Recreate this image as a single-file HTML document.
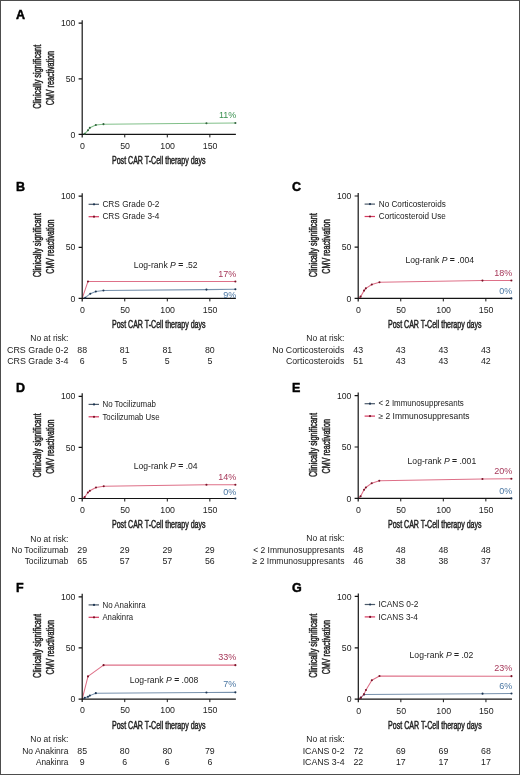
<!DOCTYPE html>
<html><head><meta charset="utf-8"><title>CMV reactivation</title>
<style>
html,body{margin:0;padding:0;background:#fff;}
svg{display:block;font-family:"Liberation Sans", sans-serif;filter:blur(0.35px);}
#wrap{position:relative;width:520px;height:775px;overflow:hidden;}
#bd{position:absolute;left:0;top:0;width:520px;height:775px;box-sizing:border-box;border:1px solid #4d4d4d;}
</style></head><body><div id="wrap">
<svg width="520" height="775" viewBox="0 0 520 775" fill="#222">
<rect x="0" y="0" width="520" height="775" fill="#fff"/>
<text x="15.90" y="18.50" font-size="12.5" fill="#000" font-weight="bold" stroke="#000" stroke-width="0.45">A</text>
<path d="M82.20 134.40 L84.75 133.73 L87.99 130.29 L89.86 127.84 L95.82 125.06 L103.47 124.17 L206.45 123.28 L235.38 123.06" stroke="#82c08a" stroke-width="1.05" fill="none" stroke-linejoin="round"/>
<path d="M82.20 20.20V137.40M78.60 23.20H82.20M78.60 78.80H82.20M78.60 134.40H235.88" stroke="#141414" stroke-width="1.2" fill="none"/>
<path d="M124.75 134.40v3M167.30 134.40v3M209.85 134.40v3" stroke="#141414" stroke-width="1" fill="none"/>
<circle cx="84.75" cy="133.73" r="1.05" fill="#34643f"/>
<circle cx="87.99" cy="130.29" r="1.05" fill="#34643f"/>
<circle cx="89.86" cy="127.84" r="1.05" fill="#34643f"/>
<circle cx="95.82" cy="125.06" r="1.05" fill="#34643f"/>
<circle cx="103.47" cy="124.17" r="1.05" fill="#34643f"/>
<circle cx="206.45" cy="123.28" r="1.05" fill="#34643f"/>
<circle cx="235.38" cy="123.06" r="1.05" fill="#34643f"/>
<text x="75.40" y="26.30" font-size="8.7" text-anchor="end">100</text>
<text x="75.40" y="81.90" font-size="8.7" text-anchor="end">50</text>
<text x="75.40" y="137.50" font-size="8.7" text-anchor="end">0</text>
<text x="82.50" y="148.70" font-size="8.8" text-anchor="middle">0</text>
<text x="125.05" y="148.70" font-size="8.8" text-anchor="middle">50</text>
<text x="167.60" y="148.70" font-size="8.8" text-anchor="middle">100</text>
<text x="210.15" y="148.70" font-size="8.8" text-anchor="middle">150</text>
<text x="158.79" y="163.80" font-size="10" text-anchor="middle" textLength="93.60" lengthAdjust="spacingAndGlyphs" stroke="#222" stroke-width="0.45">Post CAR T-Cell therapy days</text>
<g transform="translate(40.50,76.80) rotate(-90)">
<text x="0.00" y="0.00" font-size="10" text-anchor="middle" textLength="64.00" lengthAdjust="spacingAndGlyphs" stroke="#222" stroke-width="0.45">Clinically significant</text>
</g>
<g transform="translate(54.20,78.10) rotate(-90)">
<text x="0.00" y="0.00" font-size="10" text-anchor="middle" textLength="54.30" lengthAdjust="spacingAndGlyphs" stroke="#222" stroke-width="0.45">CMV reactivation</text>
</g>
<text x="236.28" y="117.80" font-size="9.0" text-anchor="end" fill="#3a9150">11%</text>
<text x="15.90" y="191.20" font-size="12.5" fill="#000" font-weight="bold" stroke="#000" stroke-width="0.45">B</text>
<path d="M82.20 298.40 L85.26 297.68 L90.28 293.70 L95.82 291.55 L103.47 290.43 L206.45 289.61 L235.38 289.20" stroke="#7892ad" stroke-width="1.05" fill="none" stroke-linejoin="round"/>
<path d="M82.20 298.40 L87.99 281.43 L235.38 281.43" stroke="#de7088" stroke-width="1.05" fill="none" stroke-linejoin="round"/>
<path d="M82.20 193.20V301.40M78.60 196.20H82.20M78.60 247.30H82.20M78.60 298.40H235.88" stroke="#141414" stroke-width="1.2" fill="none"/>
<path d="M124.75 298.40v3M167.30 298.40v3M209.85 298.40v3" stroke="#141414" stroke-width="1" fill="none"/>
<circle cx="85.26" cy="297.68" r="1.05" fill="#1c3552"/>
<circle cx="90.28" cy="293.70" r="1.05" fill="#1c3552"/>
<circle cx="95.82" cy="291.55" r="1.05" fill="#1c3552"/>
<circle cx="103.47" cy="290.43" r="1.05" fill="#1c3552"/>
<circle cx="206.45" cy="289.61" r="1.05" fill="#1c3552"/>
<circle cx="235.38" cy="289.20" r="1.05" fill="#1c3552"/>
<circle cx="87.99" cy="281.43" r="1.05" fill="#7a1428"/>
<circle cx="235.38" cy="281.43" r="1.05" fill="#7a1428"/>
<text x="75.40" y="199.30" font-size="8.7" text-anchor="end">100</text>
<text x="75.40" y="250.40" font-size="8.7" text-anchor="end">50</text>
<text x="75.40" y="301.50" font-size="8.7" text-anchor="end">0</text>
<text x="82.50" y="312.70" font-size="8.8" text-anchor="middle">0</text>
<text x="125.05" y="312.70" font-size="8.8" text-anchor="middle">50</text>
<text x="167.60" y="312.70" font-size="8.8" text-anchor="middle">100</text>
<text x="210.15" y="312.70" font-size="8.8" text-anchor="middle">150</text>
<text x="158.79" y="327.80" font-size="10" text-anchor="middle" textLength="93.60" lengthAdjust="spacingAndGlyphs" stroke="#222" stroke-width="0.45">Post CAR T-Cell therapy days</text>
<g transform="translate(40.50,245.30) rotate(-90)">
<text x="0.00" y="0.00" font-size="10" text-anchor="middle" textLength="64.00" lengthAdjust="spacingAndGlyphs" stroke="#222" stroke-width="0.45">Clinically significant</text>
</g>
<g transform="translate(54.20,246.60) rotate(-90)">
<text x="0.00" y="0.00" font-size="10" text-anchor="middle" textLength="54.30" lengthAdjust="spacingAndGlyphs" stroke="#222" stroke-width="0.45">CMV reactivation</text>
</g>
<text x="236.28" y="276.90" font-size="9.0" text-anchor="end" fill="#a6385a">17%</text>
<text x="236.28" y="297.60" font-size="9.0" text-anchor="end" fill="#4a76a2">9%</text>
<path d="M88.60 204.30H99.00" stroke="#4d5b6b" stroke-width="1.2"/>
<circle cx="94.00" cy="204.30" r="1.1" fill="#1c3552"/>
<text x="102.40" y="207.05" font-size="8.35" textLength="56.95" lengthAdjust="spacingAndGlyphs">CRS Grade 0-2</text>
<path d="M88.60 216.70H99.00" stroke="#d63a60" stroke-width="1.2"/>
<circle cx="94.00" cy="216.70" r="1.1" fill="#7a1428"/>
<text x="102.40" y="219.45" font-size="8.35" textLength="56.95" lengthAdjust="spacingAndGlyphs">CRS Grade 3-4</text>
<text x="197.60" y="268.00" font-size="8.6" text-anchor="end">Log-rank <tspan font-style="italic">P</tspan> <tspan font-weight="bold">=</tspan> .52</text>
<text x="30.25" y="341.40" font-size="8.6" textLength="38.20" lengthAdjust="spacingAndGlyphs">No at risk:</text>
<text x="6.95" y="352.80" font-size="9.0" textLength="61.60" lengthAdjust="spacingAndGlyphs">CRS Grade 0-2</text>
<text x="82.20" y="352.80" font-size="8.8" text-anchor="middle">88</text>
<text x="124.75" y="352.80" font-size="8.8" text-anchor="middle">81</text>
<text x="167.30" y="352.80" font-size="8.8" text-anchor="middle">81</text>
<text x="209.85" y="352.80" font-size="8.8" text-anchor="middle">80</text>
<text x="7.15" y="364.10" font-size="9.0" textLength="61.20" lengthAdjust="spacingAndGlyphs">CRS Grade 3-4</text>
<text x="82.20" y="364.10" font-size="8.8" text-anchor="middle">6</text>
<text x="124.75" y="364.10" font-size="8.8" text-anchor="middle">5</text>
<text x="167.30" y="364.10" font-size="8.8" text-anchor="middle">5</text>
<text x="209.85" y="364.10" font-size="8.8" text-anchor="middle">5</text>
<text x="291.90" y="191.20" font-size="12.5" fill="#000" font-weight="bold" stroke="#000" stroke-width="0.45">C</text>
<path d="M358.20 298.40 L511.38 298.40" stroke="#7892ad" stroke-width="1.05" fill="none" stroke-linejoin="round"/>
<path d="M358.20 298.40 L360.58 296.66 L364.07 290.62 L365.86 288.36 L371.82 284.47 L379.47 282.32 L482.45 280.58 L511.38 280.48" stroke="#de7088" stroke-width="1.05" fill="none" stroke-linejoin="round"/>
<path d="M358.20 193.00V301.40M354.60 196.00H358.20M354.60 247.20H358.20M354.60 298.40H511.88" stroke="#141414" stroke-width="1.2" fill="none"/>
<path d="M400.75 298.40v3M443.30 298.40v3M485.85 298.40v3" stroke="#141414" stroke-width="1" fill="none"/>
<circle cx="511.38" cy="298.40" r="1.05" fill="#1c3552"/>
<circle cx="360.58" cy="296.66" r="1.05" fill="#7a1428"/>
<circle cx="364.07" cy="290.62" r="1.05" fill="#7a1428"/>
<circle cx="365.86" cy="288.36" r="1.05" fill="#7a1428"/>
<circle cx="371.82" cy="284.47" r="1.05" fill="#7a1428"/>
<circle cx="379.47" cy="282.32" r="1.05" fill="#7a1428"/>
<circle cx="482.45" cy="280.58" r="1.05" fill="#7a1428"/>
<circle cx="511.38" cy="280.48" r="1.05" fill="#7a1428"/>
<text x="351.40" y="199.10" font-size="8.7" text-anchor="end">100</text>
<text x="351.40" y="250.30" font-size="8.7" text-anchor="end">50</text>
<text x="351.40" y="301.50" font-size="8.7" text-anchor="end">0</text>
<text x="358.50" y="312.70" font-size="8.8" text-anchor="middle">0</text>
<text x="401.05" y="312.70" font-size="8.8" text-anchor="middle">50</text>
<text x="443.60" y="312.70" font-size="8.8" text-anchor="middle">100</text>
<text x="486.15" y="312.70" font-size="8.8" text-anchor="middle">150</text>
<text x="434.79" y="327.80" font-size="10" text-anchor="middle" textLength="93.60" lengthAdjust="spacingAndGlyphs" stroke="#222" stroke-width="0.45">Post CAR T-Cell therapy days</text>
<g transform="translate(316.50,245.20) rotate(-90)">
<text x="0.00" y="0.00" font-size="10" text-anchor="middle" textLength="64.00" lengthAdjust="spacingAndGlyphs" stroke="#222" stroke-width="0.45">Clinically significant</text>
</g>
<g transform="translate(330.20,246.50) rotate(-90)">
<text x="0.00" y="0.00" font-size="10" text-anchor="middle" textLength="54.30" lengthAdjust="spacingAndGlyphs" stroke="#222" stroke-width="0.45">CMV reactivation</text>
</g>
<text x="512.28" y="275.80" font-size="9.0" text-anchor="end" fill="#a6385a">18%</text>
<text x="512.28" y="293.60" font-size="9.0" text-anchor="end" fill="#4a76a2">0%</text>
<path d="M364.60 204.10H375.00" stroke="#4d5b6b" stroke-width="1.2"/>
<circle cx="370.00" cy="204.10" r="1.1" fill="#1c3552"/>
<text x="378.85" y="206.85" font-size="8.35" textLength="66.90" lengthAdjust="spacingAndGlyphs">No Corticosteroids</text>
<path d="M364.60 216.50H375.00" stroke="#d63a60" stroke-width="1.2"/>
<circle cx="370.00" cy="216.50" r="1.1" fill="#7a1428"/>
<text x="378.85" y="219.25" font-size="8.35" textLength="66.90" lengthAdjust="spacingAndGlyphs">Corticosteroid Use</text>
<text x="474.00" y="262.80" font-size="8.6" text-anchor="end">Log-rank <tspan font-style="italic">P</tspan> <tspan font-weight="bold">=</tspan> .004</text>
<text x="306.25" y="341.40" font-size="8.6" textLength="38.20" lengthAdjust="spacingAndGlyphs">No at risk:</text>
<text x="272.15" y="352.80" font-size="9.0" textLength="72.20" lengthAdjust="spacingAndGlyphs">No Corticosteroids</text>
<text x="358.20" y="352.80" font-size="8.8" text-anchor="middle">43</text>
<text x="400.75" y="352.80" font-size="8.8" text-anchor="middle">43</text>
<text x="443.30" y="352.80" font-size="8.8" text-anchor="middle">43</text>
<text x="485.85" y="352.80" font-size="8.8" text-anchor="middle">43</text>
<text x="285.90" y="364.10" font-size="9.0" textLength="58.45" lengthAdjust="spacingAndGlyphs">Corticosteroids</text>
<text x="358.20" y="364.10" font-size="8.8" text-anchor="middle">51</text>
<text x="400.75" y="364.10" font-size="8.8" text-anchor="middle">43</text>
<text x="443.30" y="364.10" font-size="8.8" text-anchor="middle">43</text>
<text x="485.85" y="364.10" font-size="8.8" text-anchor="middle">42</text>
<text x="15.90" y="391.60" font-size="12.5" fill="#000" font-weight="bold" stroke="#000" stroke-width="0.45">D</text>
<path d="M82.20 498.50 L235.38 498.50" stroke="#7892ad" stroke-width="1.05" fill="none" stroke-linejoin="round"/>
<path d="M82.20 498.50 L84.75 497.07 L87.90 492.47 L89.86 490.83 L95.99 487.46 L103.73 486.24 L206.45 484.81 L235.38 484.70" stroke="#de7088" stroke-width="1.05" fill="none" stroke-linejoin="round"/>
<path d="M82.20 393.30V501.50M78.60 396.30H82.20M78.60 447.40H82.20M78.60 498.50H235.88" stroke="#141414" stroke-width="1.2" fill="none"/>
<path d="M124.75 498.50v3M167.30 498.50v3M209.85 498.50v3" stroke="#141414" stroke-width="1" fill="none"/>
<circle cx="235.38" cy="498.50" r="1.05" fill="#1c3552"/>
<circle cx="84.75" cy="497.07" r="1.05" fill="#7a1428"/>
<circle cx="87.90" cy="492.47" r="1.05" fill="#7a1428"/>
<circle cx="89.86" cy="490.83" r="1.05" fill="#7a1428"/>
<circle cx="95.99" cy="487.46" r="1.05" fill="#7a1428"/>
<circle cx="103.73" cy="486.24" r="1.05" fill="#7a1428"/>
<circle cx="206.45" cy="484.81" r="1.05" fill="#7a1428"/>
<circle cx="235.38" cy="484.70" r="1.05" fill="#7a1428"/>
<text x="75.40" y="399.40" font-size="8.7" text-anchor="end">100</text>
<text x="75.40" y="450.50" font-size="8.7" text-anchor="end">50</text>
<text x="75.40" y="501.60" font-size="8.7" text-anchor="end">0</text>
<text x="82.50" y="512.80" font-size="8.8" text-anchor="middle">0</text>
<text x="125.05" y="512.80" font-size="8.8" text-anchor="middle">50</text>
<text x="167.60" y="512.80" font-size="8.8" text-anchor="middle">100</text>
<text x="210.15" y="512.80" font-size="8.8" text-anchor="middle">150</text>
<text x="158.79" y="527.90" font-size="10" text-anchor="middle" textLength="93.60" lengthAdjust="spacingAndGlyphs" stroke="#222" stroke-width="0.45">Post CAR T-Cell therapy days</text>
<g transform="translate(40.50,445.40) rotate(-90)">
<text x="0.00" y="0.00" font-size="10" text-anchor="middle" textLength="64.00" lengthAdjust="spacingAndGlyphs" stroke="#222" stroke-width="0.45">Clinically significant</text>
</g>
<g transform="translate(54.20,446.70) rotate(-90)">
<text x="0.00" y="0.00" font-size="10" text-anchor="middle" textLength="54.30" lengthAdjust="spacingAndGlyphs" stroke="#222" stroke-width="0.45">CMV reactivation</text>
</g>
<text x="236.28" y="479.60" font-size="9.0" text-anchor="end" fill="#a6385a">14%</text>
<text x="236.28" y="495.00" font-size="9.0" text-anchor="end" fill="#4a76a2">0%</text>
<path d="M88.60 404.40H99.00" stroke="#4d5b6b" stroke-width="1.2"/>
<circle cx="94.00" cy="404.40" r="1.1" fill="#1c3552"/>
<text x="102.45" y="407.15" font-size="8.35" textLength="53.50" lengthAdjust="spacingAndGlyphs">No Tocilizumab</text>
<path d="M88.60 416.80H99.00" stroke="#d63a60" stroke-width="1.2"/>
<circle cx="94.00" cy="416.80" r="1.1" fill="#7a1428"/>
<text x="102.45" y="419.55" font-size="8.35" textLength="57.10" lengthAdjust="spacingAndGlyphs">Tocilizumab Use</text>
<text x="197.60" y="468.80" font-size="8.6" text-anchor="end">Log-rank <tspan font-style="italic">P</tspan> <tspan font-weight="bold">=</tspan> .04</text>
<text x="30.25" y="541.50" font-size="8.6" textLength="38.20" lengthAdjust="spacingAndGlyphs">No at risk:</text>
<text x="11.40" y="552.90" font-size="9.0" textLength="57.00" lengthAdjust="spacingAndGlyphs">No Tocilizumab</text>
<text x="82.20" y="552.90" font-size="8.8" text-anchor="middle">29</text>
<text x="124.75" y="552.90" font-size="8.8" text-anchor="middle">29</text>
<text x="167.30" y="552.90" font-size="8.8" text-anchor="middle">29</text>
<text x="209.85" y="552.90" font-size="8.8" text-anchor="middle">29</text>
<text x="24.65" y="564.20" font-size="9.0" textLength="43.75" lengthAdjust="spacingAndGlyphs">Tocilizumab</text>
<text x="82.20" y="564.20" font-size="8.8" text-anchor="middle">65</text>
<text x="124.75" y="564.20" font-size="8.8" text-anchor="middle">57</text>
<text x="167.30" y="564.20" font-size="8.8" text-anchor="middle">57</text>
<text x="209.85" y="564.20" font-size="8.8" text-anchor="middle">56</text>
<text x="291.90" y="391.60" font-size="12.5" fill="#000" font-weight="bold" stroke="#000" stroke-width="0.45">E</text>
<path d="M358.20 498.40 L511.38 498.40" stroke="#7892ad" stroke-width="1.05" fill="none" stroke-linejoin="round"/>
<path d="M358.20 498.40 L360.58 496.24 L364.07 489.76 L365.86 487.50 L371.73 483.19 L379.30 480.82 L482.45 478.97 L511.38 478.77" stroke="#de7088" stroke-width="1.05" fill="none" stroke-linejoin="round"/>
<path d="M358.20 392.60V501.40M354.60 395.60H358.20M354.60 447.00H358.20M354.60 498.40H511.88" stroke="#141414" stroke-width="1.2" fill="none"/>
<path d="M400.75 498.40v3M443.30 498.40v3M485.85 498.40v3" stroke="#141414" stroke-width="1" fill="none"/>
<circle cx="511.38" cy="498.40" r="1.05" fill="#1c3552"/>
<circle cx="360.58" cy="496.24" r="1.05" fill="#7a1428"/>
<circle cx="364.07" cy="489.76" r="1.05" fill="#7a1428"/>
<circle cx="365.86" cy="487.50" r="1.05" fill="#7a1428"/>
<circle cx="371.73" cy="483.19" r="1.05" fill="#7a1428"/>
<circle cx="379.30" cy="480.82" r="1.05" fill="#7a1428"/>
<circle cx="482.45" cy="478.97" r="1.05" fill="#7a1428"/>
<circle cx="511.38" cy="478.77" r="1.05" fill="#7a1428"/>
<text x="351.40" y="398.70" font-size="8.7" text-anchor="end">100</text>
<text x="351.40" y="450.10" font-size="8.7" text-anchor="end">50</text>
<text x="351.40" y="501.50" font-size="8.7" text-anchor="end">0</text>
<text x="358.50" y="512.70" font-size="8.8" text-anchor="middle">0</text>
<text x="401.05" y="512.70" font-size="8.8" text-anchor="middle">50</text>
<text x="443.60" y="512.70" font-size="8.8" text-anchor="middle">100</text>
<text x="486.15" y="512.70" font-size="8.8" text-anchor="middle">150</text>
<text x="434.79" y="527.80" font-size="10" text-anchor="middle" textLength="93.60" lengthAdjust="spacingAndGlyphs" stroke="#222" stroke-width="0.45">Post CAR T-Cell therapy days</text>
<g transform="translate(316.50,445.00) rotate(-90)">
<text x="0.00" y="0.00" font-size="10" text-anchor="middle" textLength="64.00" lengthAdjust="spacingAndGlyphs" stroke="#222" stroke-width="0.45">Clinically significant</text>
</g>
<g transform="translate(330.20,446.30) rotate(-90)">
<text x="0.00" y="0.00" font-size="10" text-anchor="middle" textLength="54.30" lengthAdjust="spacingAndGlyphs" stroke="#222" stroke-width="0.45">CMV reactivation</text>
</g>
<text x="512.28" y="473.60" font-size="9.0" text-anchor="end" fill="#a6385a">20%</text>
<text x="512.28" y="493.80" font-size="9.0" text-anchor="end" fill="#4a76a2">0%</text>
<path d="M364.60 403.70H375.00" stroke="#4d5b6b" stroke-width="1.2"/>
<circle cx="370.00" cy="403.70" r="1.1" fill="#1c3552"/>
<text x="378.45" y="406.45" font-size="8.35" textLength="85.40" lengthAdjust="spacingAndGlyphs">&lt; 2 Immunosuppresants</text>
<path d="M364.60 416.10H375.00" stroke="#d63a60" stroke-width="1.2"/>
<circle cx="370.00" cy="416.10" r="1.1" fill="#7a1428"/>
<text x="378.45" y="418.85" font-size="8.35" textLength="91.10" lengthAdjust="spacingAndGlyphs">&#8805; 2 Immunosuppresants</text>
<text x="476.20" y="463.50" font-size="8.6" text-anchor="end">Log-rank <tspan font-style="italic">P</tspan> <tspan font-weight="bold">=</tspan> .001</text>
<text x="306.25" y="541.40" font-size="8.6" textLength="38.20" lengthAdjust="spacingAndGlyphs">No at risk:</text>
<text x="253.15" y="552.80" font-size="9.0" textLength="91.40" lengthAdjust="spacingAndGlyphs">&lt; 2 Immunosuppresants</text>
<text x="358.20" y="552.80" font-size="8.8" text-anchor="middle">48</text>
<text x="400.75" y="552.80" font-size="8.8" text-anchor="middle">48</text>
<text x="443.30" y="552.80" font-size="8.8" text-anchor="middle">48</text>
<text x="485.85" y="552.80" font-size="8.8" text-anchor="middle">48</text>
<text x="252.55" y="564.10" font-size="9.0" textLength="92.00" lengthAdjust="spacingAndGlyphs">&#8805; 2 Immunosuppresants</text>
<text x="358.20" y="564.10" font-size="8.8" text-anchor="middle">46</text>
<text x="400.75" y="564.10" font-size="8.8" text-anchor="middle">38</text>
<text x="443.30" y="564.10" font-size="8.8" text-anchor="middle">38</text>
<text x="485.85" y="564.10" font-size="8.8" text-anchor="middle">37</text>
<text x="15.90" y="592.20" font-size="12.5" fill="#000" font-weight="bold" stroke="#000" stroke-width="0.45">F</text>
<path d="M82.20 699.10 L84.75 697.87 L87.99 696.75 L89.86 695.62 L95.82 693.17 L206.45 692.45 L235.38 692.35" stroke="#7892ad" stroke-width="1.05" fill="none" stroke-linejoin="round"/>
<path d="M82.20 699.10 L87.99 676.39 L103.56 665.14 L235.38 665.14" stroke="#de7088" stroke-width="1.05" fill="none" stroke-linejoin="round"/>
<path d="M82.20 593.80V702.10M78.60 596.80H82.20M78.60 647.95H82.20M78.60 699.10H235.88" stroke="#141414" stroke-width="1.2" fill="none"/>
<path d="M124.75 699.10v3M167.30 699.10v3M209.85 699.10v3" stroke="#141414" stroke-width="1" fill="none"/>
<circle cx="84.75" cy="697.87" r="1.05" fill="#1c3552"/>
<circle cx="87.99" cy="696.75" r="1.05" fill="#1c3552"/>
<circle cx="89.86" cy="695.62" r="1.05" fill="#1c3552"/>
<circle cx="95.82" cy="693.17" r="1.05" fill="#1c3552"/>
<circle cx="206.45" cy="692.45" r="1.05" fill="#1c3552"/>
<circle cx="235.38" cy="692.35" r="1.05" fill="#1c3552"/>
<circle cx="87.99" cy="676.39" r="1.05" fill="#7a1428"/>
<circle cx="103.56" cy="665.14" r="1.05" fill="#7a1428"/>
<circle cx="235.38" cy="665.14" r="1.05" fill="#7a1428"/>
<text x="75.40" y="599.90" font-size="8.7" text-anchor="end">100</text>
<text x="75.40" y="651.05" font-size="8.7" text-anchor="end">50</text>
<text x="75.40" y="702.20" font-size="8.7" text-anchor="end">0</text>
<text x="82.50" y="713.40" font-size="8.8" text-anchor="middle">0</text>
<text x="125.05" y="713.40" font-size="8.8" text-anchor="middle">50</text>
<text x="167.60" y="713.40" font-size="8.8" text-anchor="middle">100</text>
<text x="210.15" y="713.40" font-size="8.8" text-anchor="middle">150</text>
<text x="158.79" y="728.50" font-size="10" text-anchor="middle" textLength="93.60" lengthAdjust="spacingAndGlyphs" stroke="#222" stroke-width="0.45">Post CAR T-Cell therapy days</text>
<g transform="translate(40.50,645.95) rotate(-90)">
<text x="0.00" y="0.00" font-size="10" text-anchor="middle" textLength="64.00" lengthAdjust="spacingAndGlyphs" stroke="#222" stroke-width="0.45">Clinically significant</text>
</g>
<g transform="translate(54.20,647.25) rotate(-90)">
<text x="0.00" y="0.00" font-size="10" text-anchor="middle" textLength="54.30" lengthAdjust="spacingAndGlyphs" stroke="#222" stroke-width="0.45">CMV reactivation</text>
</g>
<text x="236.28" y="660.40" font-size="9.0" text-anchor="end" fill="#a6385a">33%</text>
<text x="236.28" y="686.80" font-size="9.0" text-anchor="end" fill="#4a76a2">7%</text>
<path d="M88.60 604.90H99.00" stroke="#4d5b6b" stroke-width="1.2"/>
<circle cx="94.00" cy="604.90" r="1.1" fill="#1c3552"/>
<text x="102.45" y="607.65" font-size="8.35" textLength="43.20" lengthAdjust="spacingAndGlyphs">No Anakinra</text>
<path d="M88.60 617.30H99.00" stroke="#d63a60" stroke-width="1.2"/>
<circle cx="94.00" cy="617.30" r="1.1" fill="#7a1428"/>
<text x="102.45" y="620.05" font-size="8.35" textLength="30.60" lengthAdjust="spacingAndGlyphs">Anakinra</text>
<text x="198.30" y="682.70" font-size="8.6" text-anchor="end">Log-rank <tspan font-style="italic">P</tspan> <tspan font-weight="bold">=</tspan> .008</text>
<text x="30.25" y="742.10" font-size="8.6" textLength="38.20" lengthAdjust="spacingAndGlyphs">No at risk:</text>
<text x="22.15" y="753.50" font-size="9.0" textLength="46.25" lengthAdjust="spacingAndGlyphs">No Anakinra</text>
<text x="82.20" y="753.50" font-size="8.8" text-anchor="middle">85</text>
<text x="124.75" y="753.50" font-size="8.8" text-anchor="middle">80</text>
<text x="167.30" y="753.50" font-size="8.8" text-anchor="middle">80</text>
<text x="209.85" y="753.50" font-size="8.8" text-anchor="middle">79</text>
<text x="35.90" y="764.80" font-size="9.0" textLength="32.50" lengthAdjust="spacingAndGlyphs">Anakinra</text>
<text x="82.20" y="764.80" font-size="8.8" text-anchor="middle">9</text>
<text x="124.75" y="764.80" font-size="8.8" text-anchor="middle">6</text>
<text x="167.30" y="764.80" font-size="8.8" text-anchor="middle">6</text>
<text x="209.85" y="764.80" font-size="8.8" text-anchor="middle">6</text>
<text x="292.00" y="592.00" font-size="12.5" fill="#000" font-weight="bold" stroke="#000" stroke-width="0.45">G</text>
<path d="M358.30 699.20 L360.85 697.66 L364.17 694.47 L482.55 693.65 L511.48 693.55" stroke="#7892ad" stroke-width="1.05" fill="none" stroke-linejoin="round"/>
<path d="M358.30 699.20 L360.85 697.76 L363.92 694.27 L365.96 689.95 L371.83 680.18 L379.49 676.07 L511.48 676.17" stroke="#de7088" stroke-width="1.05" fill="none" stroke-linejoin="round"/>
<path d="M358.30 593.40V702.20M354.70 596.40H358.30M354.70 647.80H358.30M354.70 699.20H511.98" stroke="#141414" stroke-width="1.2" fill="none"/>
<path d="M400.85 699.20v3M443.40 699.20v3M485.95 699.20v3" stroke="#141414" stroke-width="1" fill="none"/>
<circle cx="360.85" cy="697.66" r="1.05" fill="#1c3552"/>
<circle cx="364.17" cy="694.47" r="1.05" fill="#1c3552"/>
<circle cx="482.55" cy="693.65" r="1.05" fill="#1c3552"/>
<circle cx="511.48" cy="693.55" r="1.05" fill="#1c3552"/>
<circle cx="360.85" cy="697.76" r="1.05" fill="#7a1428"/>
<circle cx="363.92" cy="694.27" r="1.05" fill="#7a1428"/>
<circle cx="365.96" cy="689.95" r="1.05" fill="#7a1428"/>
<circle cx="371.83" cy="680.18" r="1.05" fill="#7a1428"/>
<circle cx="379.49" cy="676.07" r="1.05" fill="#7a1428"/>
<circle cx="511.48" cy="676.17" r="1.05" fill="#7a1428"/>
<text x="351.50" y="599.50" font-size="8.7" text-anchor="end">100</text>
<text x="351.50" y="650.90" font-size="8.7" text-anchor="end">50</text>
<text x="351.50" y="702.30" font-size="8.7" text-anchor="end">0</text>
<text x="358.60" y="713.50" font-size="8.8" text-anchor="middle">0</text>
<text x="401.15" y="713.50" font-size="8.8" text-anchor="middle">50</text>
<text x="443.70" y="713.50" font-size="8.8" text-anchor="middle">100</text>
<text x="486.25" y="713.50" font-size="8.8" text-anchor="middle">150</text>
<text x="434.89" y="728.60" font-size="10" text-anchor="middle" textLength="93.60" lengthAdjust="spacingAndGlyphs" stroke="#222" stroke-width="0.45">Post CAR T-Cell therapy days</text>
<g transform="translate(316.60,645.80) rotate(-90)">
<text x="0.00" y="0.00" font-size="10" text-anchor="middle" textLength="64.00" lengthAdjust="spacingAndGlyphs" stroke="#222" stroke-width="0.45">Clinically significant</text>
</g>
<g transform="translate(330.30,647.10) rotate(-90)">
<text x="0.00" y="0.00" font-size="10" text-anchor="middle" textLength="54.30" lengthAdjust="spacingAndGlyphs" stroke="#222" stroke-width="0.45">CMV reactivation</text>
</g>
<text x="512.38" y="670.90" font-size="9.0" text-anchor="end" fill="#a6385a">23%</text>
<text x="512.38" y="688.60" font-size="9.0" text-anchor="end" fill="#4a76a2">6%</text>
<path d="M364.70 604.50H375.10" stroke="#4d5b6b" stroke-width="1.2"/>
<circle cx="370.10" cy="604.50" r="1.1" fill="#1c3552"/>
<text x="378.45" y="607.25" font-size="8.35" textLength="39.90" lengthAdjust="spacingAndGlyphs">ICANS 0-2</text>
<path d="M364.70 616.90H375.10" stroke="#d63a60" stroke-width="1.2"/>
<circle cx="370.10" cy="616.90" r="1.1" fill="#7a1428"/>
<text x="378.45" y="619.65" font-size="8.35" textLength="39.40" lengthAdjust="spacingAndGlyphs">ICANS 3-4</text>
<text x="473.40" y="658.00" font-size="8.6" text-anchor="end">Log-rank <tspan font-style="italic">P</tspan> <tspan font-weight="bold">=</tspan> .02</text>
<text x="306.35" y="742.20" font-size="8.6" textLength="38.20" lengthAdjust="spacingAndGlyphs">No at risk:</text>
<text x="302.65" y="753.60" font-size="9.0" textLength="41.90" lengthAdjust="spacingAndGlyphs">ICANS 0-2</text>
<text x="358.30" y="753.60" font-size="8.8" text-anchor="middle">72</text>
<text x="400.85" y="753.60" font-size="8.8" text-anchor="middle">69</text>
<text x="443.40" y="753.60" font-size="8.8" text-anchor="middle">69</text>
<text x="485.95" y="753.60" font-size="8.8" text-anchor="middle">68</text>
<text x="302.65" y="764.90" font-size="9.0" textLength="41.90" lengthAdjust="spacingAndGlyphs">ICANS 3-4</text>
<text x="358.30" y="764.90" font-size="8.8" text-anchor="middle">22</text>
<text x="400.85" y="764.90" font-size="8.8" text-anchor="middle">17</text>
<text x="443.40" y="764.90" font-size="8.8" text-anchor="middle">17</text>
<text x="485.95" y="764.90" font-size="8.8" text-anchor="middle">17</text>
</svg><div id="bd"></div></div>
</body></html>
